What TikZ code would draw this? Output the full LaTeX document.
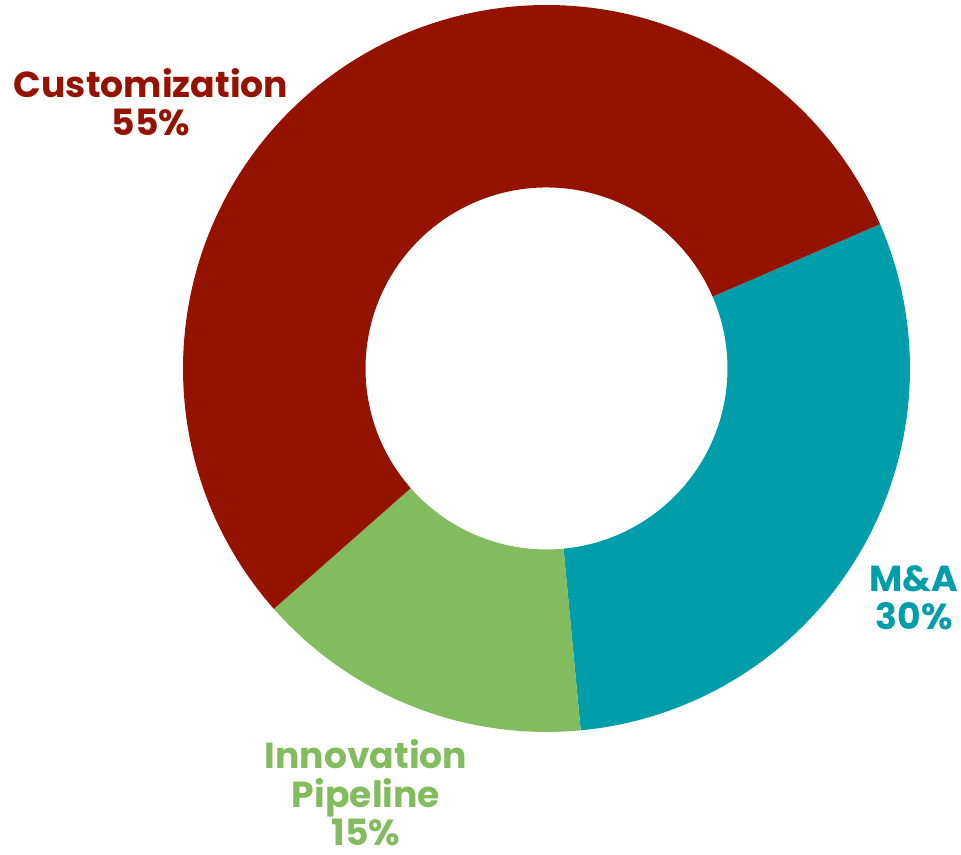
\documentclass[tikz,border=0pt]{standalone}
\usepackage{fontspec}
\setmainfont{Poppins}
\definecolor{custRed}{HTML}{941200}
\definecolor{mnaTeal}{HTML}{009EAB}
\definecolor{innovGreen}{HTML}{82BC5E}

\begin{document}
\begin{tikzpicture}[
    label_text/.style = {align = center, font = \bfseries\fontsize{10.3}{10.9}\selectfont}
  ]
        \useasboundingbox (0,0) rectangle (9.61,8.55);
        \coordinate (center_donut) at (5.465,4.865);

        % ring segments: start, end, colour
        \begin{scope}[shift = {(center_donut)}]
        \foreach \a/\b/\c in {23.4/-84.6/mnaTeal, -84.6/-138.6/innovGreen, -138.6/-336.6/custRed}
            \fill[\c] (\a:3.635) arc[start angle = \a, end angle = \b, radius = 3.635]
                -- (\b:1.81) arc[start angle = \b, end angle = \a, radius = 1.81] -- cycle;
        \end{scope}

        \node (cust_label)[label_text, text = custRed] at (1.51,7.53) {Customization\\55\%};
        \node (mna_label)[label_text, text = mnaTeal] at (9.14,2.57) {M\&A\\30\%};
        \node (innov_label)[label_text, text = innovGreen] at (3.66,0.62) {Innovation\\Pipeline\\15\%};
    \end{tikzpicture}
\end{document}
